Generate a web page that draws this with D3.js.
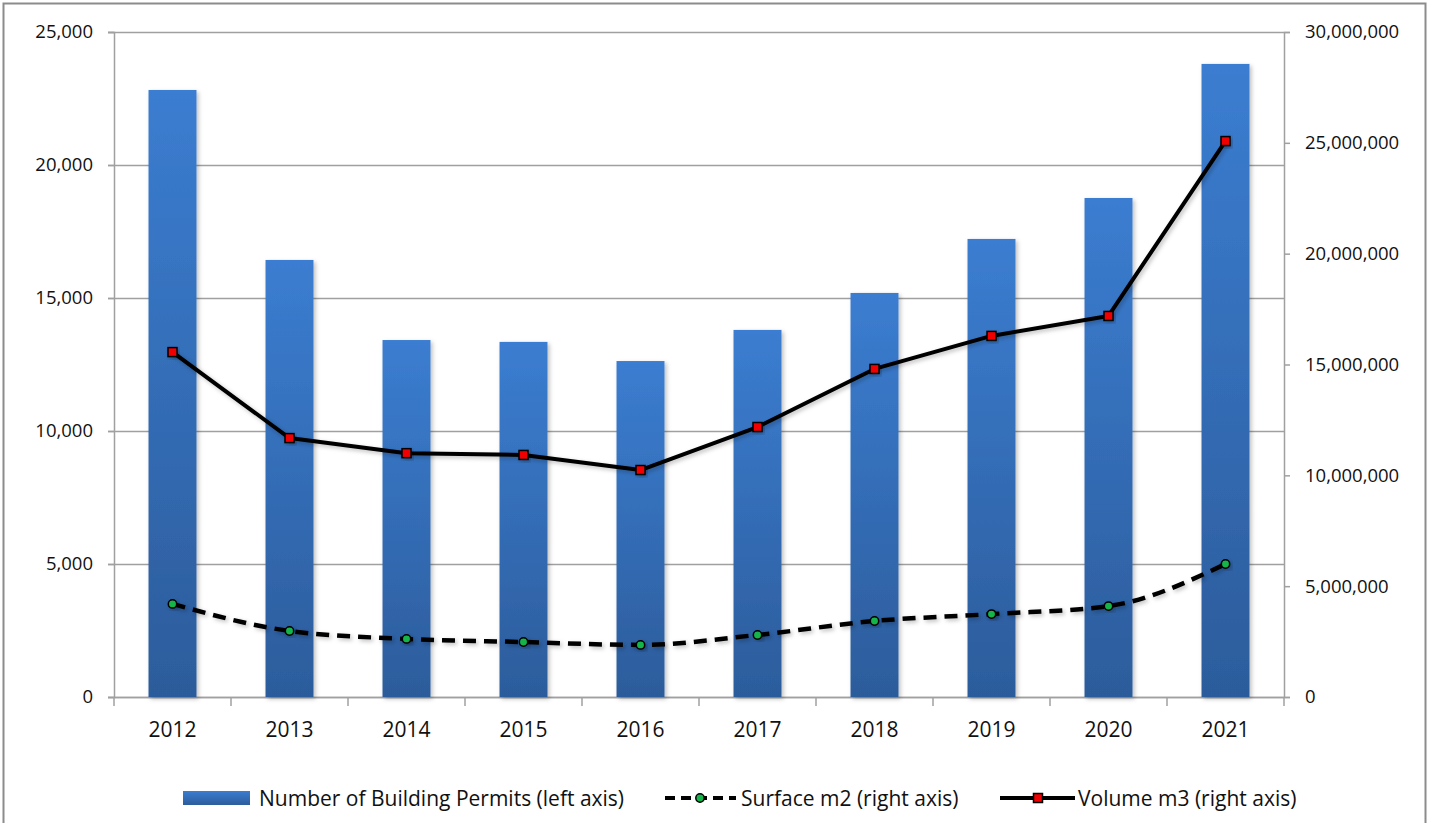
<!DOCTYPE html>
<html>
<head>
<meta charset="utf-8">
<script src="https://cdn.jsdelivr.net/npm/d3@7"></script>
<style>
  body { margin: 0; background: #fff; }
  svg text { font-family: "Open Sans", "Noto Sans", sans-serif; fill: #111; }
</style>
</head>
<body>
<div id="chart"></div>
<script>
// chart data
var years = ["2012","2013","2014","2015","2016","2017","2018","2019","2020","2021"];
var permits = [22820, 16430, 13420, 13350, 12630, 13800, 15190, 17220, 18760, 23800];
var surface = [4200000, 2980000, 2620000, 2480000, 2350000, 2800000, 3430000, 3740000, 4100000, 6000000];
var volume = [15560000, 11680000, 11000000, 10920000, 10240000, 12180000, 14800000, 16290000, 17190000, 25080000];
var leftTicks = [0, 5000, 10000, 15000, 20000, 25000];
var rightTicks = [0, 5000000, 10000000, 15000000, 20000000, 25000000, 30000000];
var legendNames = ["Number of Building Permits (left axis)", "Surface m2 (right axis)", "Volume m3 (right axis)"];

var width = 1432, height = 823;
var plotLeft = 114, plotRight = 1284, plotTop = 32, plotBottom = 697;
var gridColor = "#a0a0a0";
var fmt = d3.format(",");

var svg = d3.select("#chart").append("svg")
  .attr("width", width)
  .attr("height", height);

// frame round the whole chart
svg.append("rect")
  .attr("x", 3.5).attr("y", 3.5)
  .attr("width", 1422).attr("height", 830)
  .attr("fill", "none")
  .attr("stroke", "#8c8c8c")
  .attr("stroke-width", 2);

var defs = svg.append("defs");
var grad = defs.append("linearGradient")
  .attr("id", "barGrad")
  .attr("x1", 0).attr("y1", 0).attr("x2", 0).attr("y2", 1);
grad.append("stop").attr("offset", "0%").attr("stop-color", "#3b7dd1");
grad.append("stop").attr("offset", "100%").attr("stop-color", "#2c5c9b");

var shadow = defs.append("filter").attr("id", "shadow")
  .attr("x", "-20%").attr("y", "-20%").attr("width", "150%").attr("height", "150%");
shadow.append("feDropShadow")
  .attr("dx", 2).attr("dy", 2).attr("stdDeviation", 2)
  .attr("flood-color", "#000").attr("flood-opacity", 0.25);

/** scales */
var xScale = d3.scaleBand()
  .domain(years)
  .range([plotLeft, plotRight])
  .paddingInner(0.59)
  .paddingOuter(0.295);
var xBand = d3.scaleBand().domain(years).range([plotLeft, plotRight]);
var yLeft = d3.scaleLinear().domain([0, 25000]).range([plotBottom, plotTop]);
var yRight = d3.scaleLinear().domain([0, 30000000]).range([plotBottom, plotTop]);

// grid lines
svg.append("g")
  .selectAll("line")
  .data(leftTicks)
  .enter().append("line")
  .attr("x1", plotLeft - 6)
  .attr("x2", plotRight)
  .attr("y1", function(d) { return yLeft(d) + 0.5; })
  .attr("y2", function(d) { return yLeft(d) + 0.5; })
  .attr("stroke", gridColor)
  .attr("stroke-width", 1.5);

// left axis
var leftAxis = svg.append("g")
  .attr("transform", "translate(" + plotLeft + ",0)")
  .call(d3.axisLeft(yLeft).tickValues(leftTicks).tickFormat(fmt).tickSize(6).tickPadding(15));
leftAxis.selectAll("path, line").attr("stroke", gridColor).attr("stroke-width", 1.5);
leftAxis.selectAll("text").style("font-size", "18.5px").attr("fill", "#111");

// right axis
var rightAxis = svg.append("g")
  .attr("transform", "translate(" + plotRight + ",0)")
  .call(d3.axisRight(yRight).tickValues(rightTicks).tickFormat(fmt).tickSize(6).tickPadding(15));
rightAxis.selectAll("path, line").attr("stroke", gridColor).attr("stroke-width", 1.5);
rightAxis.selectAll("text").style("font-size", "18.5px").attr("fill", "#111");

// bottom axis, ticks between the categories
var xAxis = svg.append("g")
  .attr("transform", "translate(0," + plotBottom + ")");
xAxis.append("line")
  .attr("x1", plotLeft).attr("x2", plotRight)
  .attr("y1", 0.5).attr("y2", 0.5)
  .attr("stroke", gridColor).attr("stroke-width", 1.5);
xAxis.selectAll(".tk")
  .data(years.concat(["end"]))
  .enter().append("line")
  .attr("class", "tk")
  .attr("x1", function(d, i) { return i < years.length ? xBand(d) : plotRight; })
  .attr("x2", function(d, i) { return i < years.length ? xBand(d) : plotRight; })
  .attr("y1", 0).attr("y2", 9)
  .attr("stroke", gridColor).attr("stroke-width", 1.5);
xAxis.selectAll("text")
  .data(years)
  .enter().append("text")
  .attr("x", function(d) { return xBand(d) + xBand.bandwidth() / 2; })
  .attr("y", 40)
  .attr("text-anchor", "middle")
  .style("font-size", "21px")
  .text(function(d) { return d; });

// bars
svg.append("g")
  .selectAll("rect")
  .data(permits)
  .enter().append("rect")
  .attr("x", function(d, i) { return xScale(years[i]); })
  .attr("y", function(d) { return yLeft(d); })
  .attr("width", xScale.bandwidth())
  .attr("height", function(d) { return plotBottom - yLeft(d); })
  .attr("fill", "url(#barGrad)")
  .attr("filter", "url(#shadow)");

function cx(i) { return xBand(years[i]) + xBand.bandwidth() / 2; }

// surface line (smooth, dashed)
var surfLine = d3.line()
  .x(function(d, i) { return cx(i); })
  .y(function(d) { return yRight(d); })
  .curve(d3.curveMonotoneX);
svg.append("path")
  .datum(surface)
  .attr("d", surfLine)
  .attr("fill", "none")
  .attr("stroke", "#000")
  .attr("stroke-width", 4.5)
  .attr("stroke-dasharray", "13,8")
  .attr("filter", "url(#shadow)");

// volume line
var volLine = d3.line()
  .x(function(d, i) { return cx(i); })
  .y(function(d) { return yRight(d); });
svg.append("path")
  .datum(volume)
  .attr("d", volLine)
  .attr("fill", "none")
  .attr("stroke", "#000")
  .attr("stroke-width", 4)
  .attr("stroke-linejoin", "round")
  .attr("filter", "url(#shadow)");

// markers
svg.append("g")
  .selectAll("circle")
  .data(surface)
  .enter().append("circle")
  .attr("cx", function(d, i) { return cx(i); })
  .attr("cy", function(d) { return yRight(d); })
  .attr("r", 4.2)
  .attr("fill", "#14b44a")
  .attr("stroke", "#000")
  .attr("stroke-width", 1.5)
  .attr("filter", "url(#shadow)");

svg.append("g")
  .selectAll("rect")
  .data(volume)
  .enter().append("rect")
  .attr("x", function(d, i) { return cx(i) - 4.5; })
  .attr("y", function(d) { return yRight(d) - 4.5; })
  .attr("width", 9).attr("height", 9)
  .attr("fill", "#f00000")
  .attr("stroke", "#000")
  .attr("stroke-width", 1.5)
  .attr("filter", "url(#shadow)");

//key
var key = svg.append("g");
key.append("rect")
  .attr("x", 183).attr("y", 791)
  .attr("width", 67).attr("height", 14)
  .attr("fill", "url(#barGrad)");
key.append("line")
  .attr("x1", 665).attr("x2", 736).attr("y1", 798).attr("y2", 798)
  .attr("stroke", "#000").attr("stroke-width", 4)
  .attr("stroke-dasharray", "10,6");
key.append("circle")
  .attr("cx", 700).attr("cy", 798).attr("r", 4.2)
  .attr("fill", "#14b44a").attr("stroke", "#000").attr("stroke-width", 1.5);
key.append("line")
  .attr("x1", 1000).attr("x2", 1075).attr("y1", 798).attr("y2", 798)
  .attr("stroke", "#000").attr("stroke-width", 4);
key.append("rect")
  .attr("x", 1033.5).attr("y", 793.5).attr("width", 9).attr("height", 9)
  .attr("fill", "#f00000").attr("stroke", "#000").attr("stroke-width", 1.5);

var keyX = [259, 741, 1078];
legendNames.forEach(function(d, i) {
  key.append("text")
    .attr("x", keyX[i])
    .attr("y", 806)
    .text(d)
    .style("font-size", "21px");
});
</script>
</body>
</html>
